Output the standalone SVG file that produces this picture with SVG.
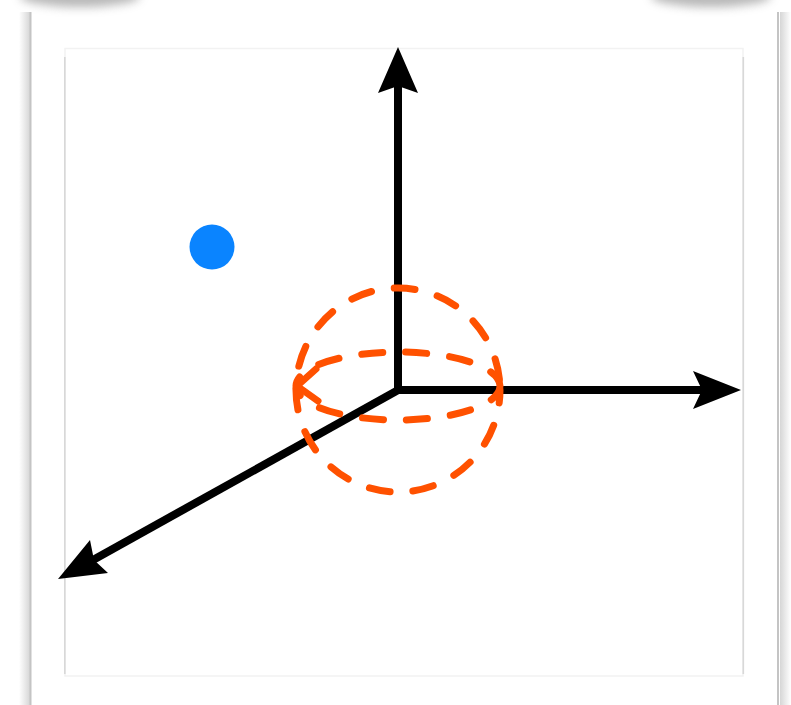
<svg xmlns="http://www.w3.org/2000/svg" width="791" height="705" viewBox="0 0 791 705">
  <defs>
    <linearGradient id="shadowL" x1="0" y1="0" x2="1" y2="0">
      <stop offset="0" stop-color="#ffffff"/>
      <stop offset="1" stop-color="#d6d6d6"/>
    </linearGradient>
    <linearGradient id="shadowR" x1="0" y1="0" x2="1" y2="0">
      <stop offset="0" stop-color="#d6d6d6"/>
      <stop offset="1" stop-color="#ffffff"/>
    </linearGradient>
    <filter id="blur" x="-50%" y="-200%" width="200%" height="500%">
      <feGaussianBlur stdDeviation="5"/>
    </filter>
    <style>
      .axis { stroke: #000; stroke-width: 8; fill: none; }
      .head { fill: #000; }
      .rot { stroke: #ff5100; stroke-width: 7; fill: none; stroke-dasharray: 21 23; stroke-linecap: round; }
      .chev { stroke: #ff5100; stroke-width: 7; fill: none; stroke-linecap: round; stroke-linejoin: round; }
    </style>
  </defs>

  <rect width="791" height="705" fill="#ffffff"/>

  <g id="frame">
    <ellipse cx="80" cy="-4" rx="60" ry="11" fill="#9a9a9a" filter="url(#blur)" opacity="0.7"/>
    <ellipse cx="711" cy="-4" rx="60" ry="11" fill="#9a9a9a" filter="url(#blur)" opacity="0.7"/>
    <rect x="19" y="12" width="11" height="700" fill="url(#shadowL)"/>
    <rect x="780" y="12" width="11" height="700" fill="url(#shadowR)"/>
    <rect x="29.5" y="12" width="2" height="700" fill="#c4c4c4"/>
    <rect x="777" y="12" width="2" height="700" fill="#c4c4c4"/>
    <rect x="65" y="48.5" width="678" height="627.5" fill="#ffffff" stroke="#f2f2f2" stroke-width="1.5"/>
    <rect x="64" y="57" width="1.6" height="617" fill="#d8d8d8"/>
    <rect x="742.5" y="57" width="1.6" height="617" fill="#d8d8d8"/>
  </g>

  <g id="point">
    <circle cx="212" cy="247" r="22.5" fill="#0a84ff"/>
  </g>

  <g id="connectors">
    <g id="axis-y">
      <line class="axis" x1="398" y1="394" x2="398" y2="86"/>
      <polygon class="head" points="398,47 378,93 398,86 418,93"/>
    </g>
    <g id="axis-x">
      <line class="axis" x1="394" y1="390" x2="703" y2="390"/>
      <polygon class="head" points="741,390 693,371 702,390 693,409"/>
    </g>
    <g id="axis-z">
      <line class="axis" x1="400" y1="389" x2="93" y2="560"/>
      <polygon class="head" points="58,579 90,540 94,560 108,573"/>
    </g>
  </g>

  <g id="rotation">
    <circle class="rot" cx="398" cy="390" r="102" stroke-dashoffset="8"/>
    <ellipse class="rot" cx="398" cy="386" rx="102" ry="34" stroke-dashoffset="4"/>
    <polyline class="chev" points="316,369 297,386 318,401"/>
  </g>
</svg>
